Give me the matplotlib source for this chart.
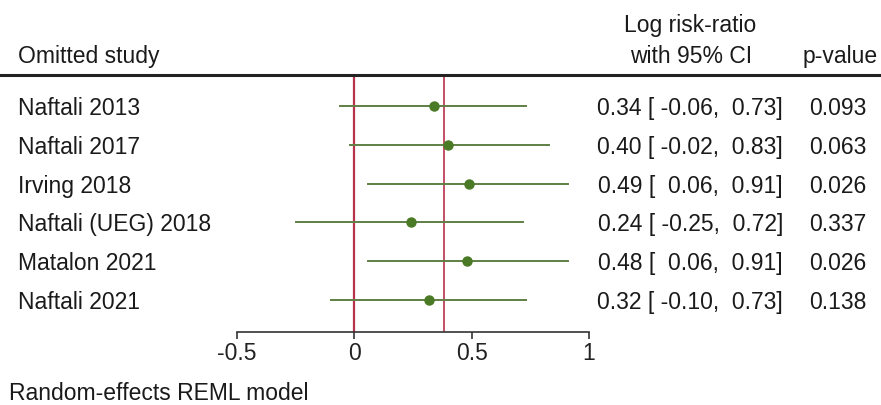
import matplotlib
matplotlib.use("Agg")
import matplotlib.pyplot as plt
from matplotlib.lines import Line2D

plt.rcParams['font.family'] = ['Liberation Sans', 'DejaVu Sans']

studies = ["Naftali 2013", "Naftali 2017", "Irving 2018", "Naftali (UEG) 2018",
           "Matalon 2021", "Naftali 2021"]
est = [0.34, 0.40, 0.49, 0.24, 0.48, 0.32]
lo = [-0.06, -0.02, 0.06, -0.25, 0.06, -0.10]
hi = [0.73, 0.83, 0.91, 0.72, 0.91, 0.73]
pvals = ["0.093", "0.063", "0.026", "0.337", "0.026", "0.138"]
overall = 0.38
xticks = [-0.5, 0, 0.5, 1]
xticklabels = ["-0.5", "0", "0.5", "1"]

W, H = 881, 405
fig = plt.figure(figsize=(W / 100, H / 100), dpi=100)

def fx(px):
    return px / W

def fy(py):
    return 1 - py / H

ax = fig.add_axes([fx(237), fy(332), fx(589) - fx(237), fy(75) - fy(332)])
ax.set_xlim(-0.5, 1)
ax.set_ylim(6.83, 0.2)

red = "#b8314a"
green_line = "#5f7f45"
green_dot = "#4a7a25"

ax.axvline(0, color=red, lw=1.6, zorder=1)
ax.axvline(overall, color=red, lw=1.2, zorder=1)

ys = list(range(1, len(studies) + 1))
for y, e, l, h in zip(ys, est, lo, hi):
    ax.plot([l, h], [y, y], color=green_line, lw=1.4, zorder=2)
ax.plot(est, ys, 'o', color=green_dot, ms=6.5, zorder=3)

for s in ['top', 'right', 'left']:
    ax.spines[s].set_visible(False)
ax.spines['bottom'].set_bounds(-0.5, 1)
ax.spines['bottom'].set_linewidth(1.2)
ax.spines['bottom'].set_color("#333333")
ax.set_yticks([])
ax.set_xticks(xticks)
ax.set_xticklabels(xticklabels, fontsize=16.5, color="#222222")
ax.tick_params(axis='x', direction='out', length=5, width=1.2, color="#333333", pad=2)
ax.patch.set_visible(False)

# header line
fig.add_artist(Line2D([0, 1], [fy(75), fy(75)], color="#222222", lw=2.2, transform=fig.transFigure))

fs = 16.5
tc = "#1a1a1a"
fig.text(fx(18), fy(63), "Omitted study", fontsize=fs, va='baseline', ha='left', color=tc)
fig.text(fx(690), fy(32), "Log risk-ratio", fontsize=fs, va='baseline', ha='center', color=tc)
fig.text(fx(691), fy(63), "with 95% CI", fontsize=fs, va='baseline', ha='center', color=tc)
fig.text(fx(803), fy(63), "p-value", fontsize=fs, va='baseline', ha='left', color=tc)

row_px = [106, 144.8, 183.6, 222.4, 261.2, 300]
for rp, s, e, l, h, p in zip(row_px, studies, est, lo, hi, pvals):
    fig.text(fx(18), fy(rp + 9), s, fontsize=fs, va='baseline', ha='left', color=tc)
    txt = f"{e:.2f} [{l:6.2f}, {h:5.2f}]"
    fig.text(fx(783), fy(rp + 9), txt, fontsize=fs, va='baseline', ha='right', color=tc)
    fig.text(fx(809), fy(rp + 9), p, fontsize=fs, va='baseline', ha='left', color=tc)

fig.text(fx(9), fy(400), "Random-effects REML model", fontsize=fs, va='baseline', ha='left', color=tc)

fig.savefig("out.png", dpi=100, facecolor="white")
